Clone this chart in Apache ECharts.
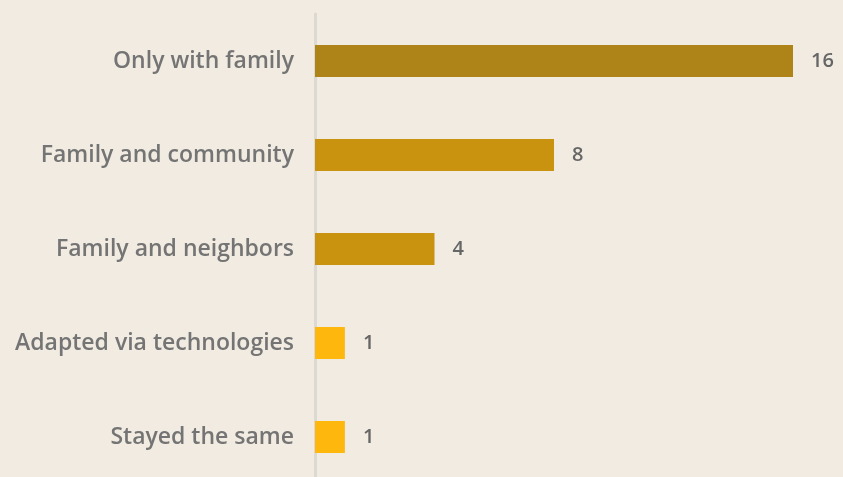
<!DOCTYPE html>
<html>
<head>
<meta charset="utf-8">
<script src="https://cdn.jsdelivr.net/npm/echarts@6/dist/echarts.min.js"></script>
<style>
  html, body { margin: 0; padding: 0; background: #f1ebe1; overflow: hidden; }
  #chart { width: 843px; height: 491px; }
</style>
</head>
<body>
<div id="chart"></div>
<script>
  var categories = ['Only with family', 'Family and community', 'Family and neighbors', 'Adapted via technologies', 'Stayed the same'];
  var values = [16, 8, 4, 1, 1];
  var barColors = ['#ae8418', '#c9920f', '#c9920f', '#fdb70d', '#fdb70d'];

  var myChart = echarts.init(document.getElementById('chart'));
  myChart.setOption({
    backgroundColor: '#f1ebe1',
    animation: false,
    grid: { left: 315, top: 14, width: 478, height: 470 },
    xAxis: {
      type: 'value',
      min: 0,
      max: 16,
      show: false
    },
    yAxis: {
      type: 'category',
      inverse: true,
      data: categories,
      axisLine: { show: true, lineStyle: { color: '#dcd8d2', width: 3 } },
      axisTick: { show: false },
      axisLabel: {
        margin: 21,
        color: '#747474',
        fontFamily: 'Open Sans',
        fontWeight: 600,
        fontSize: 23
      }
    },
    series: [
      {
        type: 'bar',
        barWidth: 32,
        data: values.map(function (v, i) {
          return { value: v, itemStyle: { color: barColors[i] } };
        }),
        label: {
          show: true,
          position: 'right',
          distance: 18,
          color: '#666',
          fontFamily: 'Open Sans',
          fontWeight: 600,
          fontSize: 20
        }
      }
    ]
  });
</script>
</body>
</html>
